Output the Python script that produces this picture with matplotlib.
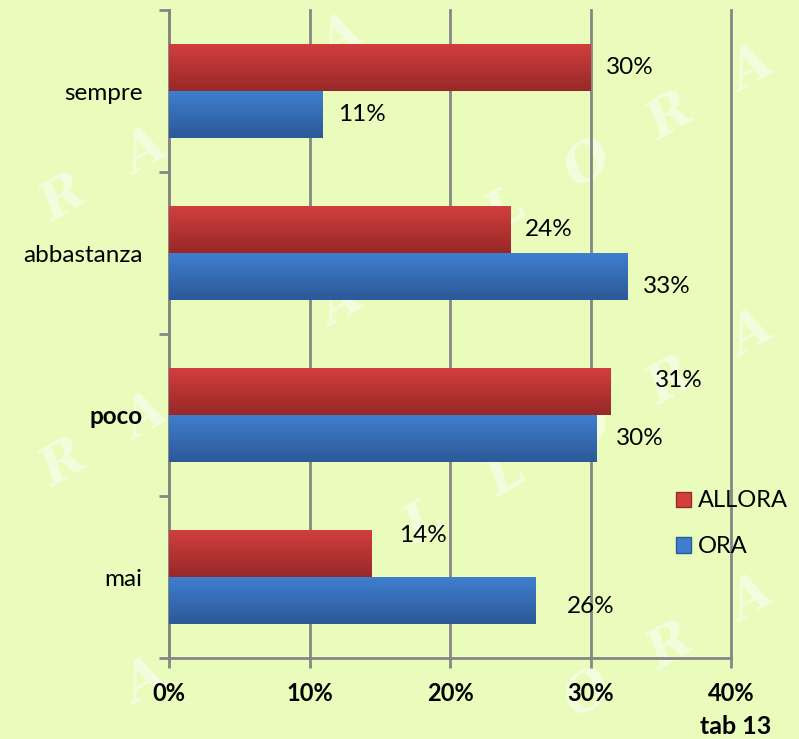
import numpy as np
import matplotlib
matplotlib.use("Agg")
import matplotlib.pyplot as plt
from matplotlib.patches import Patch

# Data (top to bottom as in the chart)
categories = ["sempre", "abbastanza", "poco", "mai"]
allora = [30.0, 24.3, 31.4, 14.4]
ora = [10.9, 32.6, 30.4, 26.1]
series_names = ["ALLORA", "ORA"]
x_ticks = [0, 10, 20, 30, 40]

# label nudges (Excel put them a little irregularly)
allora_dx = [1.1, 1.0, 3.2, 2.0]
allora_dy = [0.0, 0.0, 0.07, 0.11]
ora_dx = [1.1, 1.1, 1.4, 2.2]
ora_dy = [0.0, -0.06, 0.0, -0.04]

bg = "#E9FCBC"
grid_col = "#868686"
red_top, red_bot = np.array([210, 62, 62]) / 255, np.array([152, 40, 40]) / 255
blue_top, blue_bot = np.array([62, 126, 206]) / 255, np.array([44, 89, 152]) / 255

plt.rcParams["font.family"] = ["Lato", "DejaVu Sans"]

W, H = 799, 739
fig = plt.figure(figsize=(W / 100, H / 100), dpi=100, facecolor=bg)

# watermark: "ALLORA" repeated along diagonal lines (pixel layout, letters only if fully inside)
word = "ALLORA"
step = np.array([82.0, -47.0])
period = (len(word) + 1.4) * step
for k in range(-2, 4):
    end_a = np.array([752.0, 70.0 + 265.0 * k])
    for w in range(-3, 3):
        start = end_a - (len(word) - 1) * step + w * period
        for j, ch in enumerate(word):
            px, py = start + j * step
            if 30 < px < W - 30 and 32 < py < H - 32:
                fig.text(px / W, 1 - py / H, ch, rotation=30, fontsize=38, color="white",
                         alpha=0.5, family="DejaVu Serif", fontweight="bold", style="italic",
                         ha="center", va="center", zorder=0)

ax = fig.add_axes([169 / W, 1 - 658 / H, (731 - 169) / W, (658 - 10) / H])
ax.set_facecolor("none")
ax.set_zorder(1)

y = np.arange(len(categories))[::-1].astype(float)
h = 0.29


def gradient_bars(ypos, vals, top, bot):
    bars = ax.barh(ypos, vals, height=h, color=top, zorder=3)
    grad = np.linspace(0, 1, 64)[:, None, None]
    img = top[None, None, :] * (1 - grad) + bot[None, None, :] * grad
    for b in bars:
        x0, y0 = b.get_x(), b.get_y()
        w, hh = b.get_width(), b.get_height()
        im = ax.imshow(img, extent=[x0, x0 + w, y0, y0 + hh], aspect="auto",
                       origin="upper", zorder=3, interpolation="bilinear")
        im.set_clip_path(b)
    return bars


gradient_bars(y + h / 2, allora, red_top, red_bot)
gradient_bars(y - h / 2, ora, blue_top, blue_bot)

for i in range(len(categories)):
    ax.text(allora[i] + allora_dx[i], y[i] + h / 2 + allora_dy[i], f"{round(allora[i])}%",
            va="center", ha="left", fontsize=17.5, zorder=5)
    ax.text(ora[i] + ora_dx[i], y[i] - h / 2 + ora_dy[i], f"{round(ora[i])}%",
            va="center", ha="left", fontsize=17.5, zorder=5)

ax.set_xlim(0, 40)
ax.set_ylim(-0.5, len(categories) - 0.5)

ax.set_xticks(x_ticks)
ax.set_xticklabels([f"{t}%" for t in x_ticks], fontsize=17, fontweight="bold")
ax.tick_params(axis="x", length=7, width=2, color=grid_col, pad=10)

ax.set_yticks(y)
ax.set_yticklabels(categories, fontsize=17.5)
ax.get_yticklabels()[2].set_fontweight("bold")
ax.set_yticks(np.arange(len(categories) + 1) - 0.5, minor=True)
ax.tick_params(axis="y", which="major", length=0, pad=19)
ax.tick_params(axis="y", which="minor", length=7, width=2, color=grid_col)

ax.grid(axis="x", color=grid_col, linewidth=2, zorder=1)
for gl in ax.get_xgridlines():
    gl.set_clip_on(False)
ax.set_axisbelow(True)
for s in ["top", "right"]:
    ax.spines[s].set_visible(False)
for s in ["left", "bottom"]:
    ax.spines[s].set_color(grid_col)
    ax.spines[s].set_linewidth(2)

handles = [Patch(facecolor=red_top, edgecolor=red_bot), Patch(facecolor=blue_top, edgecolor=blue_bot)]
ax.legend(handles, series_names, loc="center left", bbox_to_anchor=(0.902, 0.207),
          frameon=False, fontsize=17, handlelength=0.62, handleheight=0.62,
          handletextpad=0.3, labelspacing=1.05, borderpad=0, borderaxespad=0)

fig.text(736 / W, 1 - 727 / H, "tab 13", ha="center", va="center",
         fontsize=18, fontweight="bold")

fig.savefig("out.png", dpi=100, facecolor=bg)
